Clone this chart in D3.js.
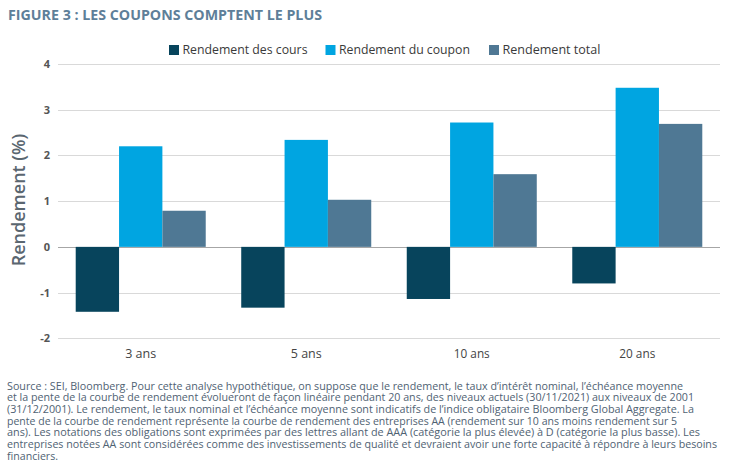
<!DOCTYPE html>
<html><head><meta charset="utf-8">
<script src="https://cdn.jsdelivr.net/npm/d3@7"></script>
<style>body{margin:0;background:#fff}svg{display:block}</style>
</head><body>
<script>
const categories = ["3 ans","5 ans","10 ans","20 ans"];
const seriesNames = ["Rendement des cours","Rendement du coupon","Rendement total"];
const prixValues = [-1.42,-1.33,-1.14,-0.80];
const couponValues = [2.20,2.34,2.72,3.48];
const totalValues = [0.79,1.03,1.59,2.69];
const yTicks = [-2,-1,0,1,2,3,4];
const colors = ["#07445c","#00a5e1","#4f7894"];
const title = "FIGURE 3 : LES COUPONS COMPTENT LE PLUS";
const yLabel = "Rendement (%)";
const notes = [
 "Source : SEI, Bloomberg. Pour cette analyse hypothétique, on suppose que le rendement, le taux d’intérêt nominal, l’échéance moyenne",
 "et la pente de la courbe de rendement évolueront de façon linéaire pendant 20 ans, des niveaux actuels (30/11/2021) aux niveaux de 2001",
 "(31/12/2001). Le rendement, le taux nominal et l’échéance moyenne sont indicatifs de l’indice obligataire Bloomberg Global Aggregate. La",
 "pente de la courbe de rendement représente la courbe de rendement des entreprises AA (rendement sur 10 ans moins rendement sur 5",
 "ans). Les notations des obligations sont exprimées par des lettres allant de AAA (catégorie la plus élevée) à D (catégorie la plus basse). Les",
 "entreprises notées AA sont considérées comme des investissements de qualité et devraient avoir une forte capacité à répondre à leurs besoins",
 "financiers."
];
const noteWidths = [676,687,687,670,693,710,51];

const series = [prixValues, couponValues, totalValues];
const W = 733, H = 473;
const svg = d3.select("body").append("svg").attr("width",W).attr("height",H);

svg.append("text").attr("x",8).attr("y",20).text(title)
  .attr("font-family","Open Sans").attr("font-weight",700).attr("font-size",14.5)
  .attr("fill","#5e7f99").attr("textLength",314).attr("lengthAdjust","spacingAndGlyphs");

const left = 58, right = 720;
const y = d3.scaleLinear().domain([-2,4]).range([338.3,64]);
const x0 = d3.scaleBand().domain(categories).range([left,right]).paddingInner(0.2145).paddingOuter(0.107);
const x1 = d3.scaleBand().domain(d3.range(3)).range([0,x0.bandwidth()]);

svg.append("g").selectAll("line").data(yTicks).join("line")
  .attr("x1",left).attr("x2",right)
  .attr("y1",d=>Math.round(y(d))+0.5).attr("y2",d=>Math.round(y(d))+0.5)
  .attr("stroke",d=>d===0?"#a6a6a6":"#d9d9d9").attr("stroke-width",1);

svg.append("g").selectAll("text").data(yTicks).join("text")
  .attr("x",50).attr("y",d=>y(d)+4).attr("text-anchor","end")
  .attr("font-family","Open Sans").attr("font-weight",700).attr("font-size",11)
  .attr("fill","#555").text(d=>d);

const g = svg.append("g").selectAll("g").data(categories).join("g")
  .attr("transform",d=>`translate(${x0(d)},0)`);
g.selectAll("rect").data((c,i)=>series.map((s,k)=>({k,v:s[i]}))).join("rect")
  .attr("x",d=>x1(d.k)).attr("width",x1.bandwidth())
  .attr("y",d=>y(Math.max(0,d.v))).attr("height",d=>Math.abs(y(d.v)-y(0)))
  .attr("fill",d=>colors[d.k]);

svg.append("g").selectAll("text").data(categories).join("text")
  .attr("x",d=>x0(d)+x0.bandwidth()/2).attr("y",358).attr("text-anchor","middle")
  .attr("font-family","Open Sans").attr("font-size",13).attr("fill","#444")
  .attr("textLength",d=>d.length===5?31:36).attr("lengthAdjust","spacingAndGlyphs")
  .text(d=>d);

svg.append("text").attr("transform","translate(25,200) rotate(-90)")
  .attr("text-anchor","middle").attr("font-family","Open Sans").attr("font-weight",600)
  .attr("font-size",18).attr("fill","#5a6670").text(yLabel);

const legX = [169,325.5,489];
const legW = [125,131,98];
const leg = svg.append("g").selectAll("g").data(seriesNames).join("g")
  .attr("transform",(d,i)=>`translate(${legX[i]},45)`);
leg.append("rect").attr("width",10).attr("height",10).attr("fill",(d,i)=>colors[i]);
leg.append("text").attr("x",13.5).attr("y",8.5).text(d=>d)
  .attr("font-family","Open Sans").attr("font-size",13).attr("fill","#3a3a3a")
  .attr("textLength",(d,i)=>legW[i]).attr("lengthAdjust","spacingAndGlyphs");

svg.append("g").selectAll("text").data(notes).join("text")
  .attr("x",7).attr("y",(d,i)=>389.8+i*11.67).text(d=>d)
  .attr("font-family","Open Sans").attr("font-size",10.5).attr("fill","#4f6273")
  .attr("textLength",(d,i)=>noteWidths[i]).attr("lengthAdjust","spacingAndGlyphs");
</script>
</body></html>
